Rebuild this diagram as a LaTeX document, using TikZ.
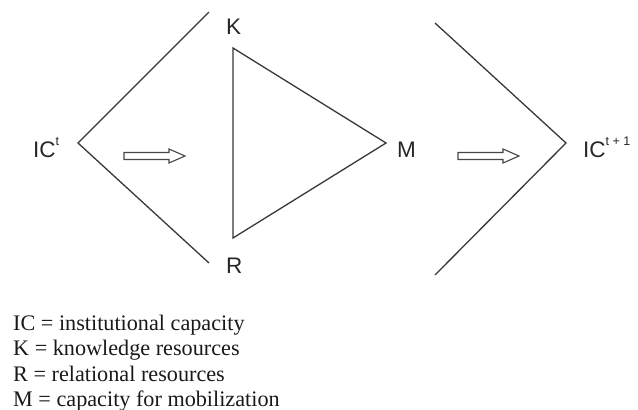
\documentclass[tikz,border=0pt]{standalone}
\usepackage{fontspec}
\setmainfont{Liberation Serif}
\newfontfamily\labfont{Liberation Sans}
\begin{document}
\begin{tikzpicture}[x=1pt,y=-1pt,
  ln/.style={draw=black!78, line width=1.3pt, line join=miter},
  lab/.style={inner sep=0pt, anchor=base west, font=\labfont\fontsize{22.5}{22}\selectfont, text=black!85},
  leg/.style={inner sep=0pt, anchor=base west, font=\fontsize{22.2}{24}\selectfont, text=black!90},
  hollow/.style={draw=black!72, line width=1.1pt, fill=white}]
\useasboundingbox (0,0) rectangle (638,410);
% vertices
\coordinate (LT) at (209,12);
\coordinate (LV) at (78,143);
\coordinate (LB) at (209,263);
\coordinate (TK) at (233,48);
\coordinate (TR) at (233,238);
\coordinate (TM) at (386,143);
\coordinate (RT) at (435,23);
\coordinate (RV) at (566,143);
\coordinate (RB) at (435,275);
% chevrons and triangle
\draw[ln] (LT) -- (LV) -- (LB);
\draw[ln] (TK) -- (TM) -- (TR) -- cycle;
\draw[ln] (RT) -- (RV) -- (RB);
% hollow arrows
\coordinate (A1) at (124,149);
\coordinate (A2) at (458,149);
\foreach \a in {A1,A2}{
  \draw[hollow] ([yshift=-3.5pt]\a) -- ++(45,0) -- ++(0,-3.5) -- ++(16,7) -- ++(-16,7) -- ++(0,-3.5) -- ++(-45,0) -- cycle;
}
% labels
\node[lab] (ict) at (33,157) {IC\raisebox{0.5em}{\fontsize{12.5}{12}\selectfont t}};
\node[lab] (k) at (226,34) {K};
\node[lab] (r) at (226,273) {R};
\node[lab] (m) at (397,157) {M};
\node[lab] (ict1) at (583,157) {IC\raisebox{0.5em}{\fontsize{12.5}{12}\selectfont t + 1}};
% legend
\node[leg] (l1) at (13,330) {IC = institutional capacity};
\node[leg] (l2) at (13,355.5) {K = knowledge resources};
\node[leg] (l3) at (13,381) {R = relational resources};
\node[leg] (l4) at (13,406.5) {M = capacity for mobilization};
\end{tikzpicture}
\end{document}
